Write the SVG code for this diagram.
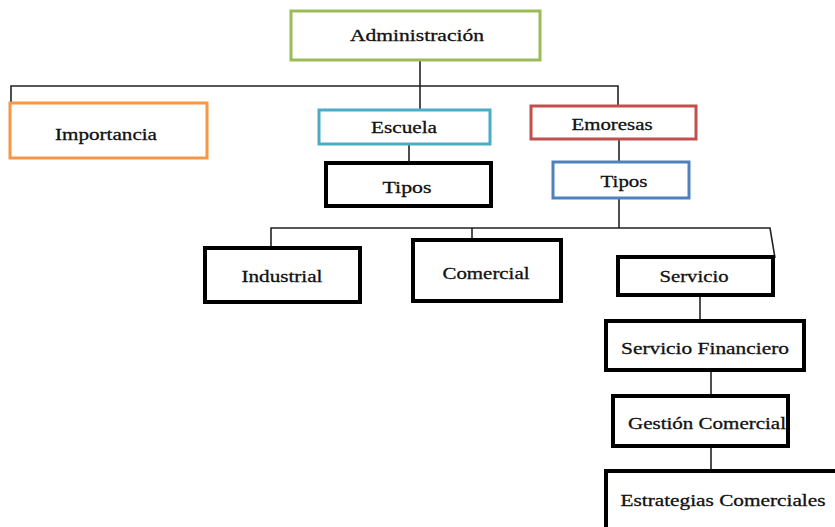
<svg xmlns="http://www.w3.org/2000/svg" width="835" height="527" viewBox="0 0 835 527">
<style>
.box{fill:#fff;stroke-width:3}
.blk{fill:#fff;stroke:#000;stroke-width:4}
.lbl{font-family:"Liberation Serif","Times New Roman",serif;font-size:17px;fill:#111;stroke:#111;stroke-width:0.3;text-anchor:middle;dominant-baseline:central}
.ln{fill:none;stroke:#222;stroke-width:1.6}
</style>
<rect width="835" height="527" fill="#fff"/>
<g id="connectors">
<path class="ln" d="M420,60 V110"/>
<path class="ln" d="M11,102 V86 H618 V106"/>
<path class="ln" d="M409,144 V163"/>
<path class="ln" d="M619,139 V162"/>
<path class="ln" d="M619,198 V228"/>
<path class="ln" d="M271,248 V228 H770 L775,258"/>
<path class="ln" d="M472,228 V240"/>
<path class="ln" d="M700,295 V321"/>
<path class="ln" d="M711,370 V396"/>
<path class="ln" d="M711,446 V471"/>
</g>
<g id="n-admin"><rect class="box" x="291" y="11" width="249" height="49" stroke="#9BBB59"/><text class="lbl" x="417" y="35" textLength="134" lengthAdjust="spacingAndGlyphs">Administración</text></g>
<g id="n-importancia"><rect class="box" x="10" y="103" width="197" height="55" stroke="#F79646"/><text class="lbl" x="106" y="134" textLength="102" lengthAdjust="spacingAndGlyphs">Importancia</text></g>
<g id="n-escuela"><rect class="box" x="319" y="110" width="171" height="34" stroke="#4BACC6"/><text class="lbl" x="404" y="127" textLength="66" lengthAdjust="spacingAndGlyphs">Escuela</text></g>
<g id="n-empresas"><rect class="box" x="531" y="106" width="165" height="33" stroke="#C0504D"/><text class="lbl" x="612" y="124" textLength="81" lengthAdjust="spacingAndGlyphs">Emoresas</text></g>
<g id="n-tipos1"><rect class="blk" x="326" y="163" width="165" height="43"/><text class="lbl" x="407" y="187" textLength="49" lengthAdjust="spacingAndGlyphs">Tipos</text></g>
<g id="n-tipos2"><rect class="box" x="553" y="162" width="136" height="36" stroke="#4F81BD"/><text class="lbl" x="624" y="181" textLength="47" lengthAdjust="spacingAndGlyphs">Tipos</text></g>
<g id="n-industrial"><rect class="blk" x="205" y="248" width="155" height="54"/><text class="lbl" x="282" y="276" textLength="81" lengthAdjust="spacingAndGlyphs">Industrial</text></g>
<g id="n-comercial"><rect class="blk" x="413" y="240" width="148" height="61"/><text class="lbl" x="486" y="273" textLength="87" lengthAdjust="spacingAndGlyphs">Comercial</text></g>
<g id="n-servicio"><rect class="blk" x="618" y="257" width="155" height="38"/><text class="lbl" x="694" y="276" textLength="69" lengthAdjust="spacingAndGlyphs">Servicio</text></g>
<g id="n-financiero"><rect class="blk" x="606" y="321" width="198" height="49"/><text class="lbl" x="705" y="348" textLength="168" lengthAdjust="spacingAndGlyphs">Servicio Financiero</text></g>
<g id="n-gestion"><rect class="blk" x="613" y="396" width="175" height="50"/><text class="lbl" x="707" y="423" textLength="158" lengthAdjust="spacingAndGlyphs">Gestión Comercial</text></g>
<g id="n-estrategias"><rect class="blk" x="606" y="471" width="235" height="62"/><text class="lbl" x="723" y="500" textLength="205" lengthAdjust="spacingAndGlyphs">Estrategias Comerciales</text></g>
</svg>
